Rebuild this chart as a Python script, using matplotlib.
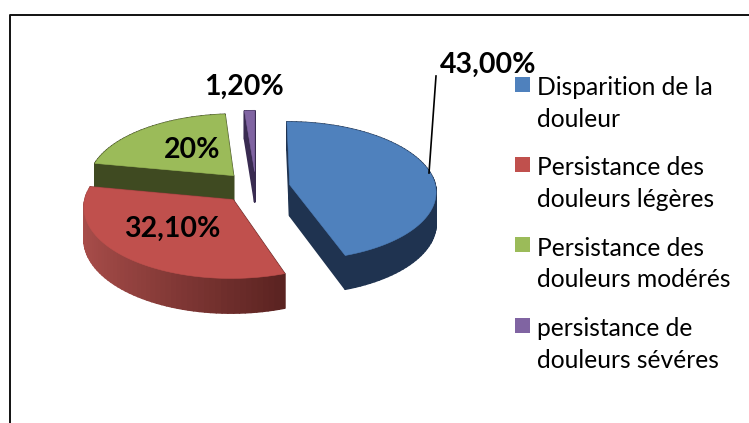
import numpy as np
import matplotlib
matplotlib.use("Agg")
import matplotlib.pyplot as plt
from matplotlib.collections import PolyCollection
from matplotlib.colors import to_rgb
from matplotlib.legend_handler import HandlerPatch
from matplotlib.patches import Patch, Rectangle
from matplotlib.lines import Line2D

categories = ["Disparition de la\ndouleur", "Persistance des\ndouleurs légères",
              "Persistance des\ndouleurs modérés", "persistance de\ndouleurs sévéres"]
values = [43.0, 32.1, 20.0, 1.2]
value_labels = ["43,00%", "32,10%", "20%", "1,20%"]

top_colors = ["#4F81BD", "#C0504D", "#9BBB59", "#8064A2"]
side_near = ["#1F3350", "#4F1D1B", "#3F4A21", "#33264A"]
side_far = ["#1F3350", "#AC4F4C", "#3F4A21", "#4A3A66"]
label_pos = [(488, 65), (172, 229), (192, 150), (244, 87)]

W, H = 749, 423
plt.rcParams["font.family"] = ["Lato", "DejaVu Sans"]
fig = plt.figure(figsize=(W / 100, H / 100), dpi=100)
ax = fig.add_axes([0, 0, 1, 1])
ax.set_xlim(0, W)
ax.set_ylim(H, 0)
ax.axis("off")

CX, CY, A, B, K, DEPTH, EXPLODE = 256, 187.5, 146, 69, 0.09, 31, 0.235


def project(u, v, z=0.0):
    w = 1 / (1 + K * v)
    return CX + A * u * w, CY - B * v * w + DEPTH * z * w


def mix(c1, c2, t):
    c1, c2 = np.array(to_rgb(c1)), np.array(to_rgb(c2))
    return tuple(c1 * (1 - t) + c2 * t)


fracs = np.array(values) / sum(values)
ends = np.cumsum(fracs) * 2 * np.pi
starts = ends - fracs * 2 * np.pi


def slice_outline(i):
    mid = (starts[i] + ends[i]) / 2
    ou, ov = EXPLODE * np.sin(mid), EXPLODE * np.cos(mid)
    n = max(6, int(np.degrees(ends[i] - starts[i]) / 2))
    ang = np.linspace(starts[i], ends[i], n)
    u = np.r_[ou, ou + np.sin(ang), ou]
    v = np.r_[ov, ov + np.cos(ang), ov]
    return u, v


for i in [2, 3, 0, 1]:
    u, v = slice_outline(i)
    quads, cols, keys = [], [], []
    for j in range(len(u) - 1):
        p = [project(u[j], v[j]), project(u[j + 1], v[j + 1]),
             project(u[j + 1], v[j + 1], 1), project(u[j], v[j], 1)]
        quads.append(p)
        t = np.clip((np.mean(u[j:j + 2]) + 1.2) / 1.55, 0, 1)
        cols.append(mix(side_far[i], side_near[i], t))
        keys.append(-np.mean(v[j:j + 2]))
    order = np.argsort(keys)
    ax.add_collection(PolyCollection([quads[o] for o in order],
                                     facecolors=[cols[o] for o in order],
                                     edgecolors=[cols[o] for o in order], linewidths=1.2))
    x, y = project(u, v)
    ax.fill(x, y, color=top_colors[i], lw=0.4)

for text, (x, y) in zip(value_labels, label_pos):
    ax.text(x, y, text, ha="center", va="center", fontsize=20.5, fontweight="bold", color="black")

ax.add_line(Line2D([436, 429], [76, 173], color="black", lw=1.2))
ax.add_line(Line2D([9.5, 9.5, W + 5], [H + 5, 15, 15], color="#111111", lw=1.4))


class OffsetSquare(HandlerPatch):
    def create_artists(self, legend, orig, xdescent, ydescent, width, height, fontsize, trans):
        r = Rectangle((0, 21 * 0.72), 15 * 0.72, 15 * 0.72, facecolor=orig.get_facecolor(),
                      edgecolor="none", transform=trans)
        return [r]


handles = [Patch(facecolor=c) for c in top_colors]
leg = ax.legend(handles, categories, loc="upper left", bbox_to_anchor=(515, 76),
                bbox_transform=ax.transData, frameon=False, fontsize=17.7, borderpad=0, borderaxespad=0,
                handlelength=0.61, handletextpad=0.30, labelspacing=1.03,
                handler_map={Patch: OffsetSquare()})
for t in leg.get_texts():
    t.set_linespacing(1.47)

fig.savefig("out.png", dpi=100)
